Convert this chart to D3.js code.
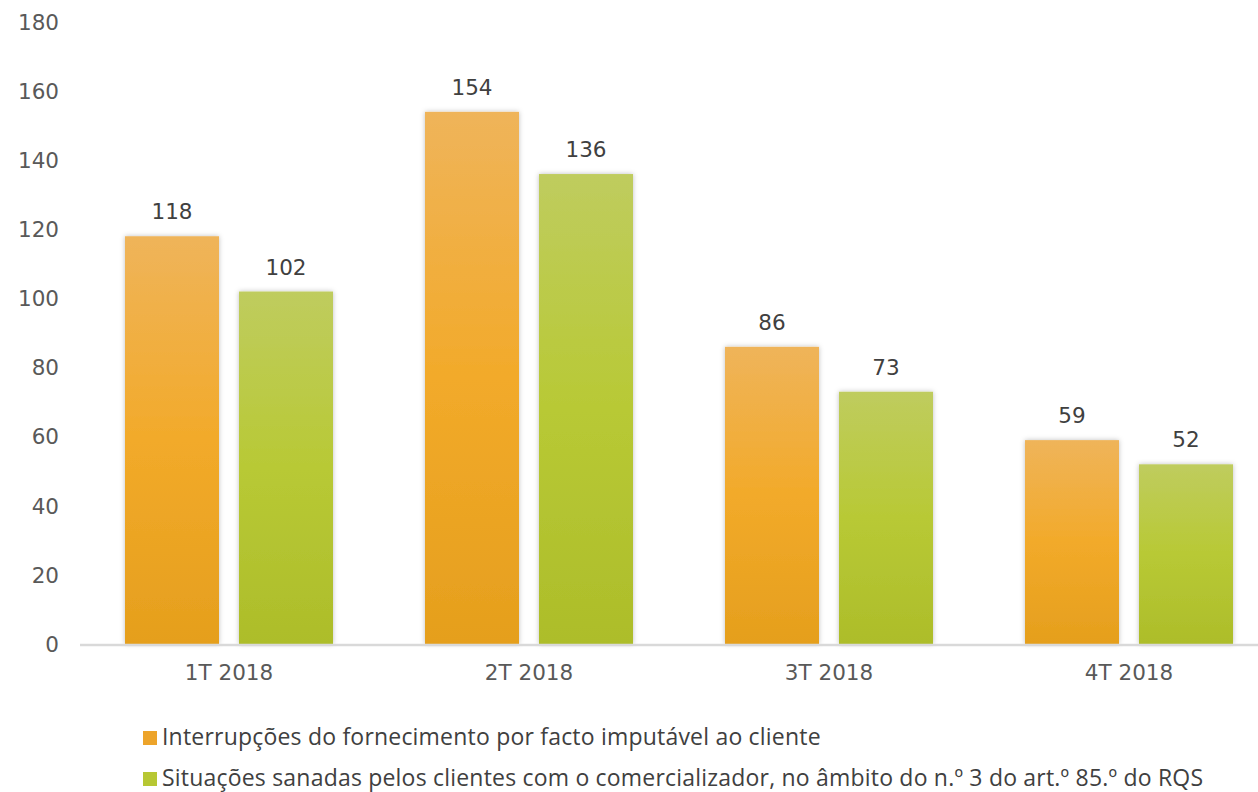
<!DOCTYPE html>
<html>
<head>
<meta charset="utf-8">
<script src="https://cdn.jsdelivr.net/npm/d3@7"></script>
<style>
  body { margin: 0; background: #fff; }
  svg { display: block; }
</style>
</head>
<body>
<div id="chart"></div>
<script>
const categories = ["1T 2018", "2T 2018", "3T 2018", "4T 2018"];
const seriesNames = [
  "Interrupções do fornecimento por facto imputável ao cliente",
  "Situações sanadas pelos clientes com o comercializador, no âmbito do n.º 3 do art.º 85.º do RQS"
];
const interrupcoes = [118, 154, 86, 59];
const sanadas = [102, 136, 73, 52];
const yTicks = [0, 20, 40, 60, 80, 100, 120, 140, 160, 180];

const W = 1258, H = 792;
const margin = { top: 22, left: 79 };

const svg = d3.select("#chart").append("svg")
  .attr("width", W)
  .attr("height", H);

const defs = svg.append("defs");

// office style gradient fills
const grads = [
  { id: "gOrange", stops: ["#EFB45A", "#F2AA2A", "#E59F1D"] },
  { id: "gGreen", stops: ["#BFCC5E", "#B8C935", "#ADBD2A"] }
];
grads.forEach(g => {
  const lg = defs.append("linearGradient")
    .attr("id", g.id)
    .attr("x1", 0).attr("y1", 0).attr("x2", 0).attr("y2", 1);
  lg.append("stop").attr("offset", "0%").attr("stop-color", g.stops[0]);
  lg.append("stop").attr("offset", "50%").attr("stop-color", g.stops[1]);
  lg.append("stop").attr("offset", "100%").attr("stop-color", g.stops[2]);
});

const shadow = defs.append("filter").attr("id", "shadow")
  .attr("x", "-20%").attr("y", "-5%").attr("width", "140%").attr("height", "110%");
shadow.append("feDropShadow")
  .attr("dx", 0).attr("dy", 0).attr("stdDeviation", 2.5)
  .attr("flood-color", "#000").attr("flood-opacity", 0.25);

const x = d3.scaleBand()
  .domain(categories)
  .range([margin.left, margin.left + 1200]);

// bar pair inside each band: 94px bars, 20px gap
const x1 = d3.scaleBand()
  .domain([0, 1])
  .range([46, 254])
  .paddingInner(20 / 114)
  .paddingOuter(0);

const y = d3.scaleLinear()
  .domain([0, 180])
  .range([644, margin.top]);

const numFont = "DejaVu Sans, Verdana, sans-serif";

// y tick labels (no axis line)
svg.append("g")
  .selectAll("text")
  .data(yTicks)
  .join("text")
  .attr("x", 59)
  .attr("y", d => y(d))
  .attr("dy", "0.36em")
  .attr("text-anchor", "end")
  .attr("font-family", numFont)
  .attr("font-size", 21.5)
  .attr("fill", "#595959")
  .text(d => d);

// bars
const data = categories.map((c, i) => ({ cat: c, vals: [interrupcoes[i], sanadas[i]] }));
const fills = ["url(#gOrange)", "url(#gGreen)"];

const groups = svg.append("g")
  .selectAll("g")
  .data(data)
  .join("g")
  .attr("transform", d => `translate(${x(d.cat)},0)`);

groups.selectAll("rect")
  .data(d => d.vals.map((v, k) => ({ k, v })))
  .join("rect")
  .attr("x", d => x1(d.k))
  .attr("width", x1.bandwidth())
  .attr("y", d => y(d.v))
  .attr("height", d => y(0) - y(d.v))
  .attr("fill", d => fills[d.k])
  .attr("filter", "url(#shadow)");

groups.selectAll("text")
  .data(d => d.vals.map((v, k) => ({ k, v })))
  .join("text")
  .attr("x", d => x1(d.k) + x1.bandwidth() / 2)
  .attr("y", d => y(d.v) - 17)
  .attr("text-anchor", "middle")
  .attr("font-family", numFont)
  .attr("font-size", 21.5)
  .attr("fill", "#404040")
  .text(d => d.v);

// x axis line
svg.append("line")
  .attr("x1", margin.left + 1)
  .attr("x2", W)
  .attr("y1", y(0) + 1)
  .attr("y2", y(0) + 1)
  .attr("stroke", "#D9D9D9")
  .attr("stroke-width", 2.5);

// x labels
svg.append("g")
  .selectAll("text")
  .data(categories)
  .join("text")
  .attr("x", d => x(d) + x.bandwidth() / 2)
  .attr("y", 680)
  .attr("text-anchor", "middle")
  .attr("font-family", numFont)
  .attr("font-size", 21.5)
  .attr("fill", "#595959")
  .text(d => d);

// legend
const legendColors = ["#EDA42A", "#B7C733"];
const legend = svg.append("g")
  .selectAll("g")
  .data(seriesNames)
  .join("g")
  .attr("transform", (d, i) => `translate(143, ${745 + i * 41})`);

legend.append("rect")
  .attr("x", 0)
  .attr("y", -14)
  .attr("width", 14)
  .attr("height", 14)
  .attr("fill", (d, i) => legendColors[i]);

legend.append("text")
  .attr("x", 19)
  .attr("y", 0)
  .attr("font-family", "Open Sans, sans-serif")
  .attr("font-size", 23)
  .attr("letter-spacing", 0.2)
  .attr("fill", "#404040")
  .text(d => d);
</script>
</body>
</html>
